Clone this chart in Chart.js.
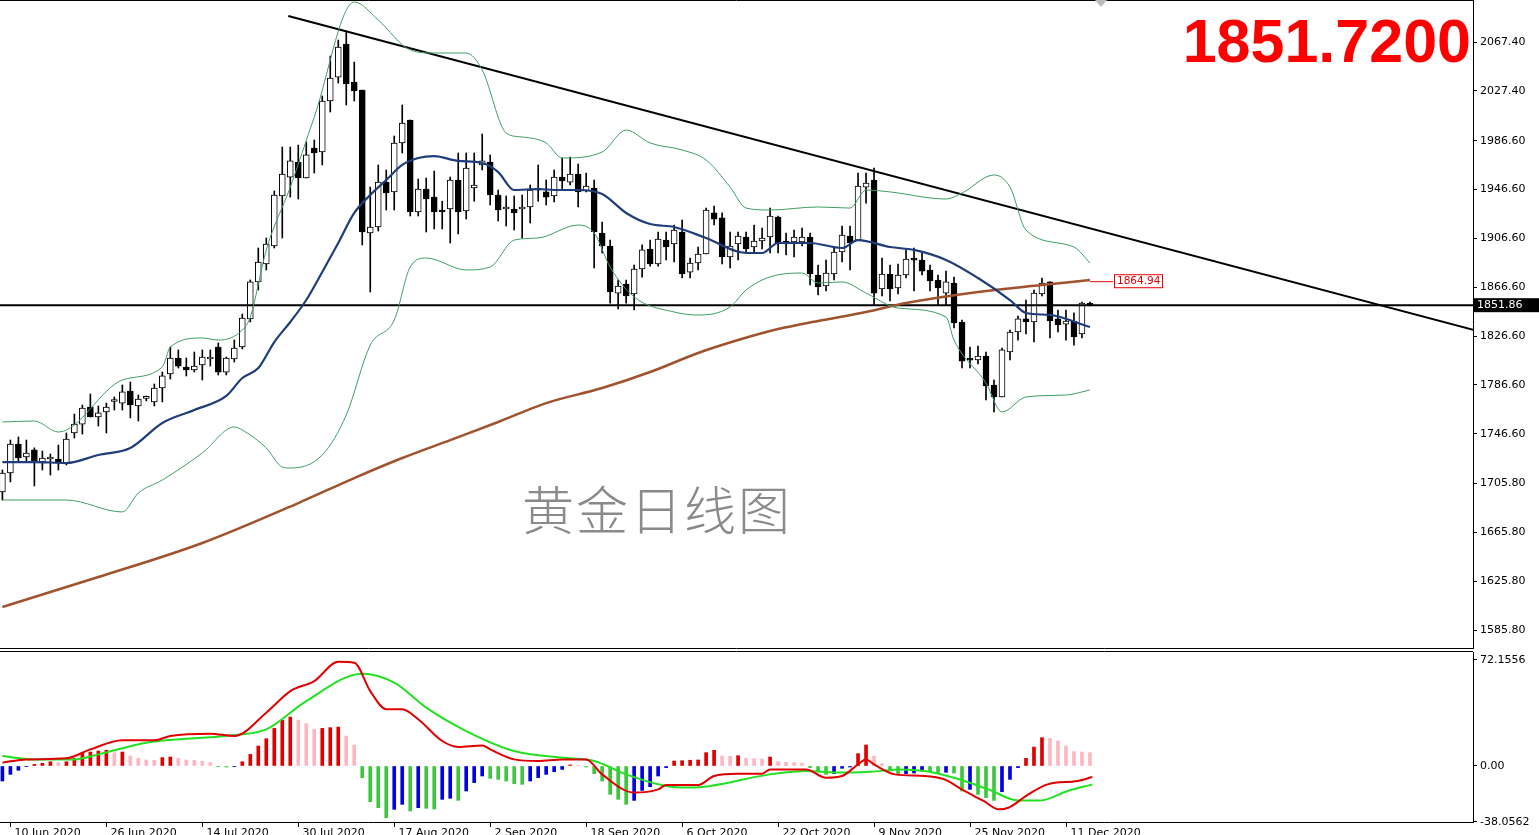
<!DOCTYPE html>
<html><head><meta charset="utf-8">
<script src="https://cdn.jsdelivr.net/npm/chart.js@4.4.0/dist/chart.umd.min.js"></script>
<style>
body{margin:0;background:#fff;width:1539px;height:835px;overflow:hidden;position:relative;font-family:'DejaVu Sans',sans-serif}
#mw{position:absolute;left:0;top:0;width:1539px;height:650px}
#dw{position:absolute;left:0;top:650px;width:1539px;height:190px}
#big{position:absolute;right:68px;top:6px;font:bold 61px 'Liberation Sans',Arial,sans-serif;color:#f00;letter-spacing:0px}
#wm{position:absolute;left:522px;top:470px;font:300 52px 'Noto Sans CJK SC',sans-serif;color:#8a8a8a;letter-spacing:2px}
#tri{position:absolute;left:1095px;top:0;width:0;height:0;border-left:6px solid transparent;border-right:6px solid transparent;border-top:7px solid #bbb}
</style></head><body>
<div id="mw"><canvas id="m"></canvas></div>
<div id="dw"><canvas id="d"></canvas></div>
<div id="big">1851.7200</div>
<div id="wm">黄金日线图</div>
<div id="tri"></div>
<script>
// ---- data ----
const openP=[1698.9,1714.4,1738.2,1727.5,1733.3,1723.4,1725.9,1725.9,1721.8,1747.2,
1754.5,1768.5,1760.3,1764.4,1773.0,1771.7,1781.6,1769.3,1775.5,1772.6,
1784.0,1795.5,1808.6,1801.2,1798.8,1802.9,1807.8,1817.6,1797.1,1807.8,
1817.6,1840.6,1870.9,1885.6,1900.3,1941.3,1956.8,1969.1,1956.0,1980.6,
1977.3,2019.1,2038.7,2065.8,2034.6,2028.1,1911.0,1915.9,1952.7,1944.6,
1984.7,2003.5,1928.2,1947.0,1940.4,1929.8,1930.6,1954.4,1929.0,1947.8,
1966.7,1969.1,1942.1,1930.6,1930.6,1930.6,1932.3,1946.0,1944.6,1941.3,
1956.8,1952.7,1959.3,1945.4,1947.8,1911.0,1900.3,1861.8,1869.2,1861.0,
1881.5,1897.9,1885.6,1905.2,1902.0,1911.8,1879.0,1886.4,1893.8,1927.4,
1923.3,1891.3,1902.0,1907.7,1899.5,1904.4,1907.7,1924.1,1904.4,1903.6,
1903.6,1907.7,1876.6,1867.6,1877.4,1895.4,1908.5,1905.2,1948.6,1954.4,
1865.1,1877.4,1865.9,1876.6,1889.0,1888.9,1880.7,1872.5,1861.8,1870.0,
1838.1,1807.2,1807.0,1810.2,1786.5,1776.7,1813.5,1829.9,1840.6,1838.1,
1861.0,1870.9,1840.6,1836.4,1838.9,1828.3,1852.0];
const highP=[1716.9,1741.4,1743.9,1741.4,1735.0,1732.4,1730.0,1737.3,1747.2,1762.7,
1770.1,1779.1,1769.3,1771.7,1776.7,1786.5,1789.0,1778.3,1777.5,1787.3,
1797.1,1817.6,1815.2,1808.6,1813.5,1815.2,1815.2,1820.9,1809.4,1823.3,
1844.6,1872.5,1898.7,1906.9,1945.4,1981.4,1981.4,1983.0,1985.5,1987.1,
2023.2,2055.9,2069.0,2076.4,2051.0,2028.1,1948.6,1966.7,1962.6,1990.4,
2015.8,2003.5,1955.2,1956.0,1961.7,1937.0,1956.8,1976.5,1976.5,1976.5,
1992.1,1974.9,1946.2,1941.3,1941.3,1942.1,1950.3,1966.7,1954.4,1962.6,
1972.4,1973.2,1967.5,1960.1,1954.4,1920.0,1905.2,1872.5,1872.5,1884.8,
1901.2,1905.2,1911.8,1911.8,1917.5,1921.6,1890.5,1899.5,1931.4,1933.1,
1927.4,1911.8,1911.8,1911.8,1917.5,1915.1,1931.4,1924.9,1911.0,1913.4,
1915.1,1911.0,1884.8,1888.9,1899.5,1916.7,1916.7,1960.1,1960.1,1964.2,
1890.5,1884.8,1885.6,1897.1,1898.7,1894.6,1884.8,1876.6,1879.8,1874.9,
1839.7,1817.6,1818.4,1813.5,1790.6,1816.8,1831.5,1843.0,1856.1,1864.3,
1874.1,1870.9,1847.9,1847.9,1845.5,1854.5,1854.5];
const lowP=[1692.3,1707.1,1723.4,1723.4,1703.8,1716.9,1712.8,1716.9,1721.0,1743.1,
1746.3,1760.3,1752.9,1747.2,1766.0,1766.0,1759.5,1757.0,1773.4,1769.3,
1772.6,1791.4,1800.4,1793.9,1797.1,1790.6,1802.0,1794.7,1794.7,1805.3,
1816.0,1838.1,1864.3,1880.7,1898.7,1906.9,1940.4,1938.8,1956.0,1960.1,
1966.7,2010.1,2033.8,2015.8,2019.1,1901.2,1862.7,1912.6,1929.8,1929.8,
1976.5,1924.9,1924.9,1911.8,1914.3,1914.3,1902.8,1910.2,1922.4,1937.0,
1962.6,1933.9,1920.8,1916.7,1913.4,1906.9,1919.2,1937.0,1933.9,1936.4,
1946.2,1950.3,1932.3,1944.6,1882.3,1894.6,1853.6,1848.7,1853.6,1847.9,
1874.9,1883.9,1883.9,1888.9,1887.2,1874.1,1874.1,1880.7,1893.8,1917.5,
1885.6,1882.3,1888.9,1895.4,1894.6,1897.9,1894.6,1894.6,1893.0,1891.3,
1900.3,1868.4,1860.2,1863.5,1872.5,1887.2,1880.7,1905.2,1935.5,1852.0,
1859.4,1855.3,1861.0,1874.1,1863.5,1876.6,1863.5,1852.0,1852.0,1833.2,
1800.4,1800.4,1803.7,1774.2,1764.4,1776.7,1807.0,1823.3,1828.3,1821.7,
1859.4,1825.0,1829.9,1823.3,1819.2,1825.0,1851.2];
const closeP=[1714.4,1738.2,1726.7,1730.8,1724.2,1726.7,1726.5,1722.6,1742.3,1754.5,
1767.6,1760.3,1763.6,1768.5,1773.4,1780.8,1770.1,1775.0,1775.9,1784.0,
1793.9,1808.6,1802.0,1798.8,1802.0,1809.4,1809.4,1797.1,1808.6,1816.8,
1841.4,1870.9,1887.2,1902.0,1942.1,1959.3,1970.0,1956.0,1974.9,1976.5,
2019.1,2037.9,2063.3,2033.0,2027.3,1911.8,1915.9,1952.7,1943.7,1984.7,
2001.1,1928.2,1947.0,1938.8,1928.2,1928.2,1954.4,1928.2,1964.2,1950.3,
1970.0,1942.1,1929.8,1932.3,1927.4,1931.4,1946.2,1946.4,1940.4,1956.8,
1953.6,1959.3,1944.6,1949.5,1911.8,1900.3,1862.7,1867.6,1859.4,1881.5,
1897.1,1885.6,1906.1,1899.5,1913.4,1877.4,1886.4,1893.8,1929.8,1922.4,
1891.3,1900.3,1908.5,1897.9,1904.4,1906.9,1924.9,1902.8,1902.0,1907.7,
1907.7,1877.4,1866.8,1878.2,1895.4,1909.3,1902.8,1949.5,1951.9,1861.8,
1877.4,1865.1,1876.6,1889.7,1888.8,1879.8,1871.7,1865.9,1870.9,1837.3,
1806.1,1806.8,1810.2,1785.7,1776.7,1815.2,1829.9,1840.6,1838.1,1861.8,
1870.0,1838.9,1835.6,1838.9,1825.8,1853.6,1851.7];

const maIdx=[0,4,8,12,16,20,24,28,30,32,34,36,38,40,42,44,46,48,50,52,54,57,60,62,64,67,69,72,75,78,81,84,88,93,95,97,101,105,107,111,114,118,122,126,128,131,136];
const maVal=[1723.4,1723.4,1722.6,1729.2,1734.9,1755.4,1766.0,1777.5,1792.2,1800.4,1821.7,1838.1,1856.1,1879.0,1902.8,1927.4,1942.1,1954.4,1966.7,1972.4,1974.0,1970.0,1968.3,1960.9,1946.2,1947.0,1946.2,1946.2,1942.9,1927.4,1918.3,1915.9,1906.9,1894.6,1894.6,1902.8,1902.8,1898.7,1905.2,1899.5,1897.1,1888.9,1874.1,1856.1,1845.5,1843.8,1834.0];
const upIdx=[0,4,7,15,20,21,25,27,30,31,33,36,39,44,47,51,54,58,60,63,65,68,70,75,78,81,85,88,91,93,96,102,106,108,111,118,120,124,126,128,134,136];
const upVal=[1756.2,1757.0,1748.0,1790.6,1801.2,1817.6,1825.0,1823.3,1831.5,1842.2,1897.1,1948.6,2006.0,2100.2,2085.4,2060.9,2058.4,2058.4,2044.5,1992.9,1989.6,1984.7,1972.4,1977.3,1995.3,1984.7,1979.0,1970.8,1948.6,1931.4,1929.8,1932.3,1931.4,1946.2,1944.6,1938.8,1943.7,1958.5,1948.6,1913.4,1899.5,1886.4];
const loIdx=[0,8,15,17,20,25,29,30,33,35,36,40,43,46,49,51,53,58,61,64,67,72,74,76,79,84,87,91,93,96,100,102,105,108,112,118,119,123,125,128,133,136];
const loVal=[1692.3,1692.3,1682.5,1698.0,1708.7,1730.8,1752.1,1749.6,1734.9,1719.3,1718.5,1729.2,1761.9,1819.2,1839.7,1883.1,1890.5,1880.7,1883.1,1905.2,1906.9,1917.5,1911.0,1883.1,1858.6,1846.3,1843.8,1850.4,1864.3,1875.0,1878.2,1870.0,1870.9,1861.8,1849.5,1842.2,1823.3,1788.1,1764.4,1776.7,1778.3,1782.4];
const ma200Idx=[0,12,25,37,44,50,56,62,68,75,81,87,92,97,102,108,113,122,130,136];
const ma200Val=[1604.7,1629.2,1657.1,1689.8,1710.3,1726.7,1741.4,1756.2,1771.7,1784.0,1797.1,1812.7,1823.3,1832.3,1838.9,1846.3,1853.6,1862.7,1868.4,1872.5];
const trendX=[35.75,185];const trendY=[2088.7,1829.8];
const hLineVal=1851.86, ma200Label=1864.94;
const priceTicks=[2067.40,2027.40,1986.60,1946.60,1906.60,1866.60,1826.60,1786.60,1746.60,1705.80,1665.80,1625.80,1585.80];

const hist=[-10.2,-5.7,-2.9,-0.2,1.1,1.8,2.9,2.3,2.9,5.2,9.1,9.5,10.2,10.7,9.1,9.5,6.8,5.2,4.1,3.9,
5.7,6.1,5.2,4.1,3.9,3.2,2.3,-0.2,-0.7,-0.5,2.9,7.9,13.6,18.6,25.6,31.1,33.3,31.1,28.8,24.9,
25.6,26.1,26.5,20.4,14.3,-7.9,-24.3,-28.4,-35.2,-29.5,-26.1,-30.6,-28.4,-28.8,-29.3,-22.7,-22.0,-23.4,-17.0,-11.3,
-6.8,-8.4,-9.1,-10.2,-12.0,-12.5,-10.2,-7.9,-5.7,-3.9,-2.3,0.7,0.2,-0.7,-5.2,-10.2,-19.3,-22.7,-26.1,-23.4,
-16.6,-14.1,-6.8,-1.1,3.4,3.6,3.9,4.1,9.1,10.7,6.8,6.6,7.0,5.2,5.0,4.8,6.1,2.9,2.5,2.3,
2.0,-1.1,-3.4,-5.7,-5.2,-1.6,-0.7,8.4,14.3,6.8,1.6,-3.4,-5.7,-5.2,-4.8,-3.4,-3.9,-4.5,-4.3,-4.8,
-17.0,-15.9,-19.3,-21.5,-23.4,-17.5,-9.1,-1.1,5.2,12.9,19.3,18.8,17.0,13.6,9.8,9.5,9.1];
const macdX=[0,3,8,11,15,19,21,26,29,33,36,39,42,44,46,48,50,52,55,57,60,61,64,67,70,73,75,79,82,83,87,89,92,95,96,100.5,103,105,107,108,109,111.6,115.3,117.8,120.3,122.7,124.6,125.8,128.3,130.7,134.4,136.3];
const macdY=[2.3,4.5,5.2,11.3,17.5,17.5,20.4,22.0,20.4,36.3,51.0,57.8,70.9,70.3,51.0,38.6,38.6,31.8,17.0,13.0,14.0,11.3,4.5,3.4,4.5,4.5,-5.7,-18.1,-15.9,-13.0,-13.0,-6.8,-5.2,-5.2,-2.3,-2.3,-8.0,-6.8,1.1,4.5,1.1,-5.7,-6.8,-9.1,-17.0,-23.8,-29.5,-28.4,-19.3,-12.5,-10.2,-7.5];
const sigX=[0,4,9,12,18,29,33,38,45,49,53,58,64,71,74,78,83,86,96,100.6,104.3,108.6,112.3,115.3,119,123.3,127,129.8,133.2,136.3];
const sigY=[6.8,4.5,4.5,7.9,15.9,21.1,24.9,44.2,62.8,56.7,39.7,23.8,10.2,5.2,3.4,-5.7,-13.6,-14.7,-5.7,-3.4,-4.5,-3.9,-2.3,-3.4,-8.0,-15.9,-23.4,-23.4,-17.0,-12.5];
const macdTickVals=[72.1556,0,-38.0562];const macdTickText=['72.1556','0.00','-38.0562'];
const dateIdx=[1,13,25,37,49,61,73,85,97,109,121,133];
const dateText=['10 Jun 2020','26 Jun 2020','14 Jul 2020','30 Jul 2020','17 Aug 2020','2 Sep 2020','18 Sep 2020','6 Oct 2020','22 Oct 2020','9 Nov 2020','25 Nov 2020','11 Dec 2020'];

// ---- build ----
Chart.defaults.font.family="'DejaVu Sans',sans-serif";
Chart.defaults.animation=false;
const XMIN=-0.3,XMAX=183.9;
const pairs=(xs,ys)=>xs.map((x,i)=>({x:x,y:ys[i]}));
const idx=openP.map((_,i)=>i);
const lineDs=(data,color,w,t)=>({type:'line',data:data,borderColor:color,borderWidth:w,pointRadius:0,tension:t,cubicInterpolationMode:t?'monotone':'default',order:0});
const xAxis={type:'linear',min:XMIN,max:XMAX,display:false,offset:false,grid:{offset:false}};
const yAxisRight=(extra)=>Object.assign({position:'right',afterFit:s=>{s.width=66;s.paddingTop=0;s.paddingBottom=0},
  grid:{drawOnChartArea:false,drawTicks:true,tickLength:4,color:'#000'},border:{display:true,color:'#000',width:1}},extra);

const mainDecor={id:'mainDecor',afterDraw(c){
  const g=c.ctx,a=c.chartArea,y=c.scales.y;
  g.save();g.strokeStyle='#000';g.lineWidth=1;
  g.beginPath();g.moveTo(0,0.5);g.lineTo(a.right,0.5);g.moveTo(0,648.5);g.lineTo(a.right,648.5);g.stroke();
  let py=y.getPixelForValue(hLineVal);
  g.fillStyle='#000';g.fillRect(a.right+1,py-7,66,14);
  g.fillStyle='#fff';g.font='11px DejaVu Sans';g.textBaseline='middle';g.fillText(hLineVal.toFixed(2),a.right+4,py);
  let ry=y.getPixelForValue(ma200Label)-8;
  g.strokeStyle='#e00';g.beginPath();g.moveTo(1090,ry+0.5);g.lineTo(1113,ry+0.5);g.stroke();
  g.fillStyle='#fff';g.fillRect(1114,ry-7,49,14);g.strokeRect(1114.5,ry-6.5,48,13);
  g.fillStyle='#d00';g.font='10.5px DejaVu Sans';g.fillText(ma200Label.toFixed(2),1117,ry);
  g.restore();
}};

new Chart(document.getElementById('m'),{
  type:'bar',
  data:{datasets:[
    lineDs(pairs(upIdx,upVal),'#3f9e63',1,0.4),
    lineDs(pairs(loIdx,loVal),'#3f9e63',1,0.4),
    lineDs(pairs(maIdx,maVal),'#1f3d7a',2.2,0.4),
    lineDs(pairs(ma200Idx,ma200Val),'#a0522d',2.5,0.4),
    lineDs([{x:XMIN-1,y:hLineVal},{x:XMAX+1,y:hLineVal}],'#000',2,0),
    lineDs(pairs(trendX,trendY),'#000',2,0),
    {type:'bar',data:idx.map(i=>({x:i,y:[lowP[i],highP[i]]})),backgroundColor:'#000',barThickness:1,grouped:false,order:3},
    {type:'bar',data:idx.map(i=>({x:i,y:[Math.min(openP[i],closeP[i]),Math.max(openP[i],closeP[i])]})),
     backgroundColor:idx.map(i=>closeP[i]>=openP[i]?'#fff':'#000'),borderColor:'#000',borderWidth:1,borderSkipped:false,
     barThickness:6,minBarLength:2,grouped:false,order:2}
  ]},
  options:{responsive:true,maintainAspectRatio:false,devicePixelRatio:1,
    layout:{padding:{left:0,right:0,top:0,bottom:2}},
    plugins:{legend:{display:false},tooltip:{enabled:false}},
    scales:{
      x:xAxis,
      y:yAxisRight({min:1571.1,max:2101.8,afterBuildTicks:s=>{s.ticks=priceTicks.map(v=>({value:v}))},
        ticks:{color:'#000',font:{size:11},padding:3,callback:v=>v.toFixed(2)}})
    }},
  plugins:[mainDecor]
});

const subDecor={id:'subDecor',afterDraw(c){
  const g=c.ctx,a=c.chartArea,x=c.scales.x;
  g.save();g.strokeStyle='#000';g.lineWidth=1;
  g.beginPath();g.moveTo(0,a.top-0.5);g.lineTo(a.right,a.top-0.5);g.moveTo(0,a.bottom+0.5);g.lineTo(a.right,a.bottom+0.5);g.stroke();
  g.fillStyle='#000';g.font='11px DejaVu Sans';g.textBaseline='top';
  dateIdx.forEach((d,k)=>{const px=Math.round(x.getPixelForValue(d))+0.5;
    g.beginPath();g.moveTo(px,a.bottom);g.lineTo(px,a.bottom+5);g.stroke();
    g.fillText(dateText[k],px+4,a.bottom+6);});
  g.restore();
}};
new Chart(document.getElementById('d'),{
  type:'bar',
  data:{datasets:[
    lineDs(pairs(macdX,macdY),'#e00000',2,0.2),
    lineDs(pairs(sigX,sigY),'#22e022',2,0.4),
    {type:'bar',data:idx.map(i=>({x:i,y:hist[i]})),barThickness:3,grouped:false,order:2,
     backgroundColor:hist.map((v,i)=>{const p=i>0?hist[i-1]:v;return v>=0?(v>=p?'#e00000':'#ffb6c1'):(v<p?'#3cc83c':'#0000e0')})}
  ]},
  options:{responsive:true,maintainAspectRatio:false,devicePixelRatio:1,
    layout:{padding:{left:0,right:0,top:2,bottom:18}},
    plugins:{legend:{display:false},tooltip:{enabled:false}},
    scales:{
      x:xAxis,
      y:yAxisRight({min:-38.12,max:77.6,afterBuildTicks:s=>{s.ticks=macdTickVals.map(v=>({value:v}))},
        ticks:{color:'#000',font:{size:11},padding:3,callback:v=>{const k=macdTickVals.indexOf(v);return k>=0?macdTickText[k]:''}}})
    }},
  plugins:[subDecor]
});
</script></body></html>
